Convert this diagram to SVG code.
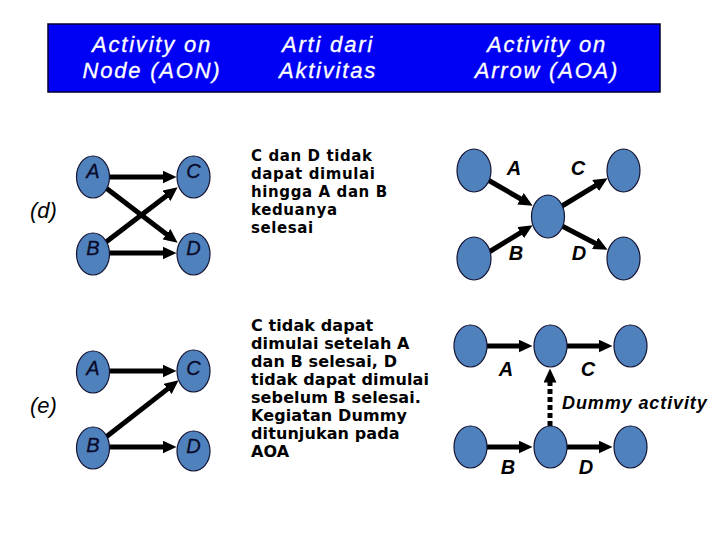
<svg xmlns="http://www.w3.org/2000/svg" width="720" height="540" viewBox="0 0 720 540">
<style>
.hdr{font-family:"Liberation Sans",Arial,sans-serif;font-style:italic;font-size:22px;fill:#ffffff;stroke:#ffffff;stroke-width:0.3;text-anchor:middle;letter-spacing:1.8px}
.nd{fill:#4f81bd;stroke:#141432;stroke-width:1.2}
.lbl{font-family:"Liberation Sans",Arial,sans-serif;font-style:italic;font-size:20px;fill:#0a0a28;stroke:#0a0a28;stroke-width:0.3;text-anchor:middle}
.albl{font-family:"Liberation Sans",Arial,sans-serif;font-style:italic;font-weight:bold;font-size:20px;fill:#000000;text-anchor:middle}
.sec{font-family:"Liberation Sans",Arial,sans-serif;font-style:italic;font-size:22px;fill:#000000}
.desc{font-family:"DejaVu Sans",Verdana,sans-serif;font-weight:bold;fill:#000000}
.d1{font-size:15px;letter-spacing:0.6px}
.d2{font-size:16px;letter-spacing:0.1px}
.dum{font-family:"Liberation Sans",Arial,sans-serif;font-style:italic;font-weight:bold;font-size:18px;fill:#000000;letter-spacing:0.9px}
.ar{stroke:#000000;stroke-width:5;fill:none;marker-end:url(#ah)}
.dash{stroke:#000000;stroke-width:5;fill:none;stroke-dasharray:5 3;marker-end:url(#ah)}
</style>
<defs>
<marker id="ah" markerUnits="userSpaceOnUse" markerWidth="15" markerHeight="13" refX="0.5" refY="6.5" orient="auto">
<path d="M0,0 L14,6.5 L0,13 z" fill="#000000"/>
</marker>
</defs>
<g id="header">
<rect x="48" y="24" width="612" height="68" fill="#0000f5" stroke="#000033" stroke-width="1.5"/>
<text class="hdr" x="152" y="52">Activity on</text>
<text class="hdr" x="152" y="78">Node (AON)</text>
<text class="hdr" x="328" y="52">Arti dari</text>
<text class="hdr" x="328" y="78">Aktivitas</text>
<text class="hdr" x="547" y="52">Activity on</text>
<text class="hdr" x="547" y="78">Arrow (AOA)</text>
</g>
<g id="section-labels">
<text class="sec" x="30" y="218">(d)</text>
<text class="sec" x="30" y="413">(e)</text>
</g>
<g id="connectors">
<path class="ar" d="M110,177 L163,177"/>
<path class="ar" d="M110,253 L163,253"/>
<path class="ar" d="M106,188 L166.9,234.5"/>
<path class="ar" d="M106,242 L166.9,195.5"/>
<path class="ar" d="M110,371 L163,371"/>
<path class="ar" d="M110,447 L163,447"/>
<path class="ar" d="M106,437 L168,388.6"/>
<path class="ar" d="M488,180 L520.9,199"/>
<path class="ar" d="M489,252 L521.1,232.3"/>
<path class="ar" d="M562,206 L596,185.3"/>
<path class="ar" d="M562,226 L595.6,243.5"/>
<path class="ar" d="M487,346 L519,346"/>
<path class="ar" d="M567,346 L599,346"/>
<path class="ar" d="M487,447 L519,447"/>
<path class="ar" d="M567,447 L599,447"/>
<path class="dash" d="M550,426 L550,382"/>
</g>
<g id="aon-d-A"><ellipse class="nd" cx="93" cy="177" rx="16.5" ry="21"/><text class="lbl" x="93" y="178">A</text></g>
<g id="aon-d-C"><ellipse class="nd" cx="193.5" cy="177" rx="16.5" ry="21"/><text class="lbl" x="193.5" y="178">C</text></g>
<g id="aon-d-B"><ellipse class="nd" cx="93" cy="254" rx="16.5" ry="21"/><text class="lbl" x="93" y="255">B</text></g>
<g id="aon-d-D"><ellipse class="nd" cx="193.5" cy="254" rx="16.5" ry="21"/><text class="lbl" x="193.5" y="255">D</text></g>
<g id="aon-e-A"><ellipse class="nd" cx="93" cy="372" rx="16.5" ry="21"/><text class="lbl" x="93" y="375">A</text></g>
<g id="aon-e-C"><ellipse class="nd" cx="193.5" cy="371" rx="16.5" ry="21"/><text class="lbl" x="193.5" y="375">C</text></g>
<g id="aon-e-B"><ellipse class="nd" cx="93" cy="448" rx="16.5" ry="21"/><text class="lbl" x="93" y="452">B</text></g>
<g id="aon-e-D"><ellipse class="nd" cx="193.5" cy="451" rx="16.5" ry="20"/><text class="lbl" x="193.5" y="453">D</text></g>
<g id="desc-d">
<text class="desc d1" x="251" y="161">C dan D tidak</text>
<text class="desc d1" x="251" y="179">dapat dimulai</text>
<text class="desc d1" x="251" y="197">hingga A dan B</text>
<text class="desc d1" x="251" y="215">keduanya</text>
<text class="desc d1" x="251" y="233">selesai</text>
</g>
<g id="desc-e">
<text class="desc d2" x="251" y="331">C tidak dapat</text>
<text class="desc d2" x="251" y="349">dimulai setelah A</text>
<text class="desc d2" x="251" y="367">dan B selesai, D</text>
<text class="desc d2" x="251" y="385">tidak dapat dimulai</text>
<text class="desc d2" x="251" y="403">sebelum B selesai.</text>
<text class="desc d2" x="251" y="421">Kegiatan Dummy</text>
<text class="desc d2" x="251" y="439">ditunjukan pada</text>
<text class="desc d2" x="251" y="457">AOA</text>
</g>
<g id="aoa-d-n1"><ellipse class="nd" cx="474" cy="170.5" rx="17" ry="21.5"/></g>
<g id="aoa-d-n2"><ellipse class="nd" cx="474" cy="258.5" rx="17" ry="21.5"/></g>
<g id="aoa-d-n3"><ellipse class="nd" cx="548" cy="216.5" rx="16.5" ry="21.5"/></g>
<g id="aoa-d-n4"><ellipse class="nd" cx="623.5" cy="170.5" rx="16.5" ry="21.5"/></g>
<g id="aoa-d-n5"><ellipse class="nd" cx="623.5" cy="258.5" rx="16.5" ry="21.5"/></g>
<g id="aoa-d-labels">
<text class="albl" x="514" y="175">A</text>
<text class="albl" x="578" y="175">C</text>
<text class="albl" x="516" y="260">B</text>
<text class="albl" x="579" y="260">D</text>
</g>
<g id="aoa-e-n1"><ellipse class="nd" cx="470.5" cy="346" rx="16.5" ry="21"/></g>
<g id="aoa-e-n2"><ellipse class="nd" cx="550.5" cy="346" rx="16.5" ry="21"/></g>
<g id="aoa-e-n3"><ellipse class="nd" cx="630.5" cy="346" rx="16.5" ry="21"/></g>
<g id="aoa-e-n4"><ellipse class="nd" cx="470.5" cy="447" rx="16.5" ry="21"/></g>
<g id="aoa-e-n5"><ellipse class="nd" cx="550.5" cy="447" rx="16.5" ry="21"/></g>
<g id="aoa-e-n6"><ellipse class="nd" cx="630.5" cy="447" rx="16.5" ry="21"/></g>
<g id="aoa-e-labels">
<text class="albl" x="506" y="376">A</text>
<text class="albl" x="588" y="376">C</text>
<text class="albl" x="508" y="474">B</text>
<text class="albl" x="586" y="474">D</text>
<text class="dum" x="562" y="409">Dummy activity</text>
</g>
</svg>
